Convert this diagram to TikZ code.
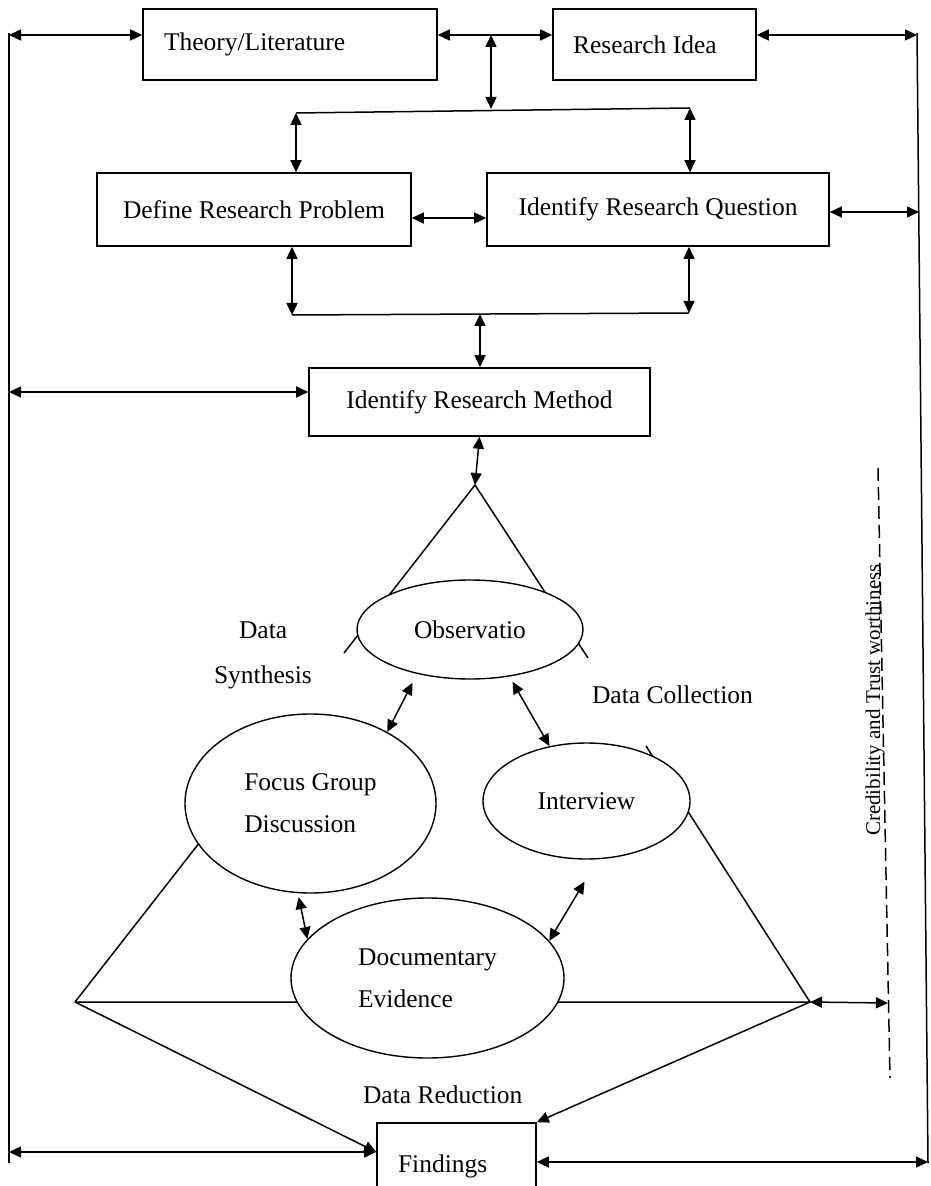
\documentclass[tikz,border=0pt]{standalone}
\usepackage{fontspec}
\setmainfont{Liberation Serif}
\usetikzlibrary{shapes.geometric,arrows.meta}

\begin{document}
\begin{tikzpicture}[x=0.5pt, y=-0.5pt, font=\fontsize{12.75}{21}\selectfont,
  box/.style={draw, line width=0.8pt, inner sep=0pt},
  lbox/.style={box, inner xsep=10.5pt, align=flush left},
  oval/.style={ellipse, draw, fill=white, line width=0.7pt, inner sep=0pt, align=left},
  conn/.style={line width=0.75pt},
  dbl/.style={conn, {Triangle[length=6pt,width=5.5pt]}-{Triangle[length=6pt,width=5.5pt]}},
  sgl/.style={conn, -{Triangle[length=6pt,width=5.5pt]}},
  dashline/.style={line width=0.75pt, dash pattern=on 6.5pt off 3pt}]

\useasboundingbox (0,0) rectangle (930,1186);
\clip (0,0) rectangle (930,1186);

% boxes
\node[lbox, text width=126pt, minimum height=35.5pt] (theory) at (290,44.5) {Theory/Literature};
\node[lbox, inner xsep=10pt, text width=81.5pt, minimum height=35.5pt] (idea) at (654.5,44.5) {Research Idea};
\node[box, minimum width=157pt, minimum height=36.5pt] (problem) at (254,209.5) {Define Research Problem};
\node[box, minimum width=171pt, minimum height=36.5pt] (question) at (658,209.5) {Identify Research Question};
\node[box, minimum width=170.5pt, minimum height=34pt] (method) at (479.5,402) {Identify Research Method};
\node[lbox, text width=58.5pt, minimum height=43pt] (findings) at (456.5,1166) {Findings};

% junction points
\coordinate (ltop) at (9,33);
\coordinate (lbot) at (9,1163);
\coordinate (rtop) at (917,33);
\coordinate (rbot) at (928,1163);
\coordinate (l1) at (9,35);
\coordinate (r1) at (917,35);
\coordinate (j1) at (491,35);
\coordinate (j2) at (491,109);
\coordinate (b1) at (296,113);
\coordinate (b2) at (690,108);
\coordinate (r2) at (919,212);
\coordinate (b3) at (292,315);
\coordinate (b4) at (689,313);
\coordinate (j3) at (480,314);
\coordinate (l2) at (9,392);
\coordinate (apex) at (475,485);
\coordinate (tl) at (344,653);
\coordinate (tr) at (588,658);
\coordinate (ll) at (75,1002);
\coordinate (rr) at (810,1002);
\coordinate (ctop) at (646,746);
\coordinate (l3) at (9,1152);
\coordinate (r3) at (928,1162);
\coordinate (dtop) at (878,468);
\coordinate (dbot) at (890,1078);
\coordinate (dmid) at (888,1003);

\draw[conn] (ltop) -- (lbot);
\draw[conn] (rtop) -- (rbot);
\draw[dbl] (l1) -- (l1 -| theory.west);
\draw[dbl] (theory.east |- l1) -- (idea.west |- l1);
\draw[dbl] (idea.east |- r1) -- (r1);
\draw[dbl] (j1) -- (j2);
\draw[conn] (b1) -- (b2);
\draw[dbl] (b1) -- (b1 |- problem.north);
\draw[dbl] (b2) -- (b2 |- question.north);
\draw[dbl] ([yshift=-4.25pt]problem.east) -- ([yshift=-4.25pt]question.west);
\draw[dbl] (question.east |- r2) -- (r2);
\draw[dbl] (b3 |- problem.south) -- (b3);
\draw[dbl] (b4 |- question.south) -- (b4);
\draw[conn] (b3) -- (b4);
\draw[dbl] (j3) -- (j3 |- method.north);
\draw[dbl] (l2) -- (l2 -| method.west);
\draw[dbl] (method.south) -- (apex);

% lines running behind the ovals
\draw[conn] (tl) -- (apex) -- (tr);
\draw[conn] (ctop) -- (rr) -- (ll);

% ovals
\node[oval, minimum width=113pt, minimum height=49.5pt] (obs) at (470,629.5) {Observatio};
\node[oval, minimum width=125.5pt, minimum height=89.5pt] (focus) at (310.5,803.5) {Focus Group\\Discussion};
\node[oval, minimum width=103.5pt, minimum height=58pt] (interview) at (586.5,801) {Interview};
\node[oval, minimum width=136.5pt, minimum height=80pt] (doc) at (427.5,978) {Documentary\\Evidence};

\draw[conn] (ll) -- (focus.200);
\draw[dbl, shorten <=5pt] (obs.220) -- (focus.43);
\draw[dbl, shorten <=3pt] (obs.310) -- (interview.124);
\draw[dbl, shorten <=2pt] (focus.262) -- (doc.162);
\draw[dbl, shorten <=13pt] (interview.281) -- (doc.17);
\draw[sgl] (ll) -- (l3 -| findings.west);
\draw[dbl] (l3) -- (l3 -| findings.west);
\draw[sgl] (rr) -- (findings.north east);
\draw[dbl] (findings.east |- r3) -- (r3);
\draw[dbl] (rr) -- (dmid);
\draw[dashline] (dtop) -- (dbot);

% labels
\node[anchor=base west] (lblData) at (232,638) {Data};
\node[anchor=base west] (lblSynth) at (207,683) {Synthesis};
\node[anchor=base west] (lblColl) at (585,703) {Data Collection};
\node[anchor=base west] (lblRed) at (356,1103) {Data Reduction};
\node[rotate=90, anchor=base, font=\fontsize{10.5}{12}\selectfont] (lblCred) at (880,700) {Credibility and Trust worthiness};
\end{tikzpicture}
\end{document}
